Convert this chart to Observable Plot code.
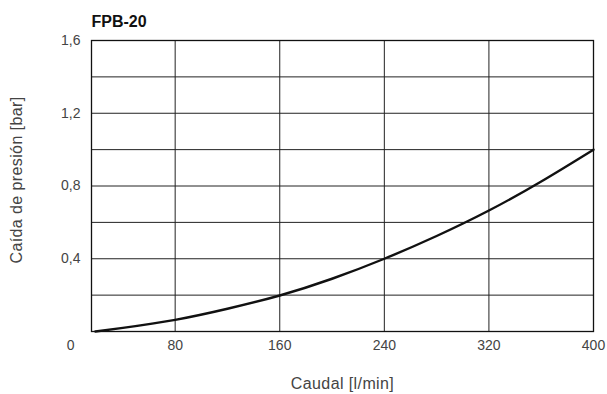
<!DOCTYPE html>
<html>
<head>
<meta charset="utf-8">
<script src="https://cdn.jsdelivr.net/npm/d3@7"></script>
<script src="https://cdn.jsdelivr.net/npm/@observablehq/plot@0.6"></script>
<style>
  html, body { margin: 0; padding: 0; background: #fff; }
  #chart svg { display: block; }
</style>
</head>
<body>
<div id="chart"></div>
<script>
const title = "FPB-20";
const xLabel = "Caudal [l/min]";
const yLabel = "Caída de presión [bar]";
const flow = [19, 40, 80, 120, 160, 200, 240, 280, 320, 360, 400];
const drop = [0, 0.02, 0.064, 0.125, 0.198, 0.29, 0.40, 0.525, 0.665, 0.825, 1.0];
const xTicks = [0, 80, 160, 240, 320, 400];
const yTicks = [0.4, 0.8, 1.2, 1.6];
const yGrid = [0, 0.2, 0.4, 0.6, 0.8, 1.0, 1.2, 1.4, 1.6];
const xGrid = [80, 160, 240, 320, 400];

const data = flow.map((f, i) => ({flow: f, drop: drop[i]}));
const fmt = v => v === 0 ? "0" : String(v).replace(".", ",");

const chart = Plot.plot({
  width: 607,
  height: 394,
  marginTop: 40,
  marginBottom: 63,
  marginLeft: 91,
  marginRight: 14,
  style: {fontFamily: "'Liberation Sans', Arial, sans-serif", fontSize: "14px", color: "#444", background: "#fff"},
  x: {domain: [16, 400]},
  y: {domain: [0, 1.6]},
  marks: [
    Plot.ruleY(yGrid, {stroke: "#222", strokeWidth: 1}),
    Plot.ruleX(xGrid, {stroke: "#222", strokeWidth: 1}),
    Plot.frame({stroke: "#111", strokeWidth: 1.3}),
    Plot.line(data, {x: "flow", y: "drop", curve: "natural", stroke: "#111", strokeWidth: 2.4}),
    Plot.axisX({ticks: xTicks, tickSize: 0, tickPadding: 9, tickFormat: fmt, fontSize: 14,
      label: xLabel, labelAnchor: "center", labelOffset: 57, labelArrow: false}),
    Plot.axisY({ticks: yTicks, tickSize: 0, tickPadding: 11, tickFormat: fmt, fontSize: 14, label: null}),
    Plot.text([yLabel], {frameAnchor: "left", textAnchor: "middle", dx: -75, dy: -6, rotate: -90, text: d => d, fontSize: 16, fill: "#444"}),
    Plot.text([title], {frameAnchor: "top-left", dy: -25, text: d => d, fontWeight: "bold", fontSize: 16, fill: "#111"})
  ]
});
d3.select(chart).selectAll("g[aria-label='x-axis label'] text")
  .style("font-size", "16px").style("letter-spacing", "0.4px");
d3.select(chart).selectAll("g[aria-label='text'] text")
  .filter(function() { return this.textContent === yLabel; })
  .style("letter-spacing", "0.4px");
document.getElementById("chart").appendChild(chart);
</script>
</body>
</html>
